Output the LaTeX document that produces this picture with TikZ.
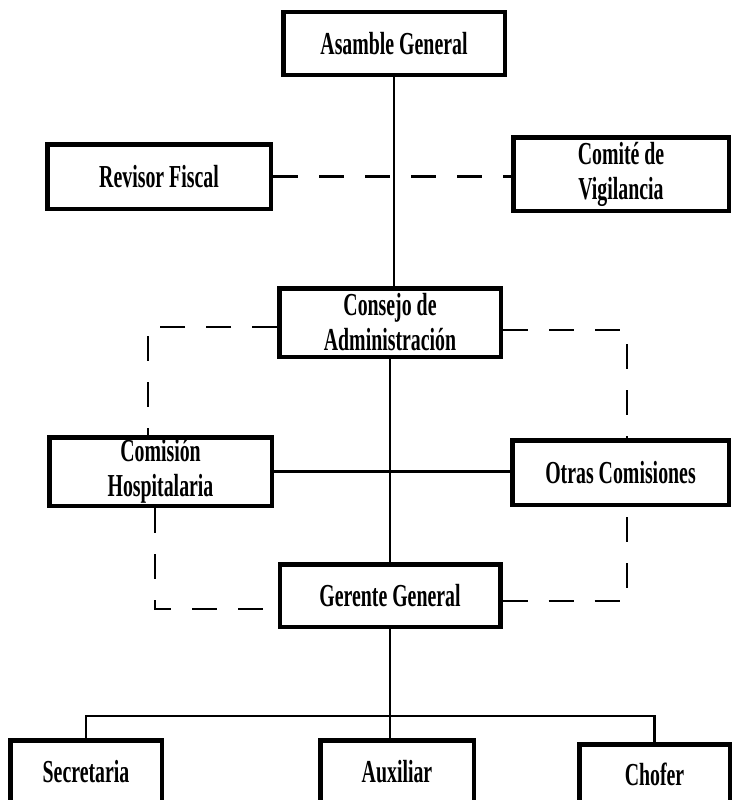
\documentclass[tikz,border=0pt]{standalone}
\usepackage{fontspec}
\setmainfont{Liberation Serif}[FakeStretch=0.62]
\usetikzlibrary{positioning,calc}

\begin{document}
\begin{tikzpicture}[x=1pt,y=-1pt,
  unit/.style={draw=black,line width=4.5pt,fill=white,inner sep=0pt,align=center,
    font=\fontsize{32}{35}\selectfont\bfseries},
  link/.style={line width=2.4pt},
  dotlink/.style={line width=2.4pt,dash pattern=on 25pt off 21pt}]
\useasboundingbox (0,0) rectangle (734,800);
\node[unit,minimum width=221.5pt,minimum height=62.5pt] (asamblea) at (394,43.5) {Asamble General};
\node[unit,minimum width=223.5pt,minimum height=64.5pt] (revisor) at (159,176.5) {Revisor Fiscal};
\node[unit,minimum width=215.5pt,minimum height=73.5pt] (comite) at (621,174) {Comité de\\Vigilancia};
\node[unit,minimum width=221.5pt,minimum height=68.5pt] (consejo) at (390,322.5) {Consejo de\\Administración};
\node[unit,minimum width=222.5pt,minimum height=68.5pt] (comision) at (160.5,471.5) {Comisión\\Hospitalaria};
\node[unit,minimum width=216.5pt,minimum height=64.5pt] (otras) at (620.5,472.5) {Otras Comisiones};
\node[unit,minimum width=220.5pt,minimum height=62.5pt] (gerente) at (390,595.5) {Gerente General};
\node[unit,minimum width=151.5pt,minimum height=63.5pt] (secretaria) at (86,772) {Secretaria};
\node[unit,minimum width=153.5pt,minimum height=63.5pt] (auxiliar) at (397,772) {Auxiliar};
\node[unit,minimum width=150.5pt,minimum height=59.5pt] (chofer) at (654.5,774) {Chofer};
\coordinate (cnw) at (148,327);
\coordinate (cne) at (627,330);
\coordinate (csw) at (155,609);
\coordinate (cse) at (627,601);
\begin{scope}[on background layer/.try]
\draw[link] (asamblea.south) -- (asamblea.south |- consejo.north);
\draw[link] (consejo.south) -- (gerente.north);
\draw[link] (comision.east) -- (comision.east -| otras.west);
\draw[link] (gerente.south) -- (gerente.south |- auxiliar.north);
\draw[link] (secretaria.north) -- ++(0,-22) -| (chofer.north);
\draw[dotlink] (revisor.east) -- (revisor.east -| comite.west);
\draw[dotlink] (consejo.west |- cnw) -- (cnw) -- (cnw |- comision.north);
\draw[dotlink] (consejo.east |- cne) -- (cne) -- (cne |- otras.north);
\draw[dotlink] (csw |- comision.south) -- (csw) -- (gerente.west |- csw);
\draw[dotlink] (gerente.east |- cse) -- (cse) -- (cse |- otras.south);
\end{scope}
\end{tikzpicture}
\end{document}
